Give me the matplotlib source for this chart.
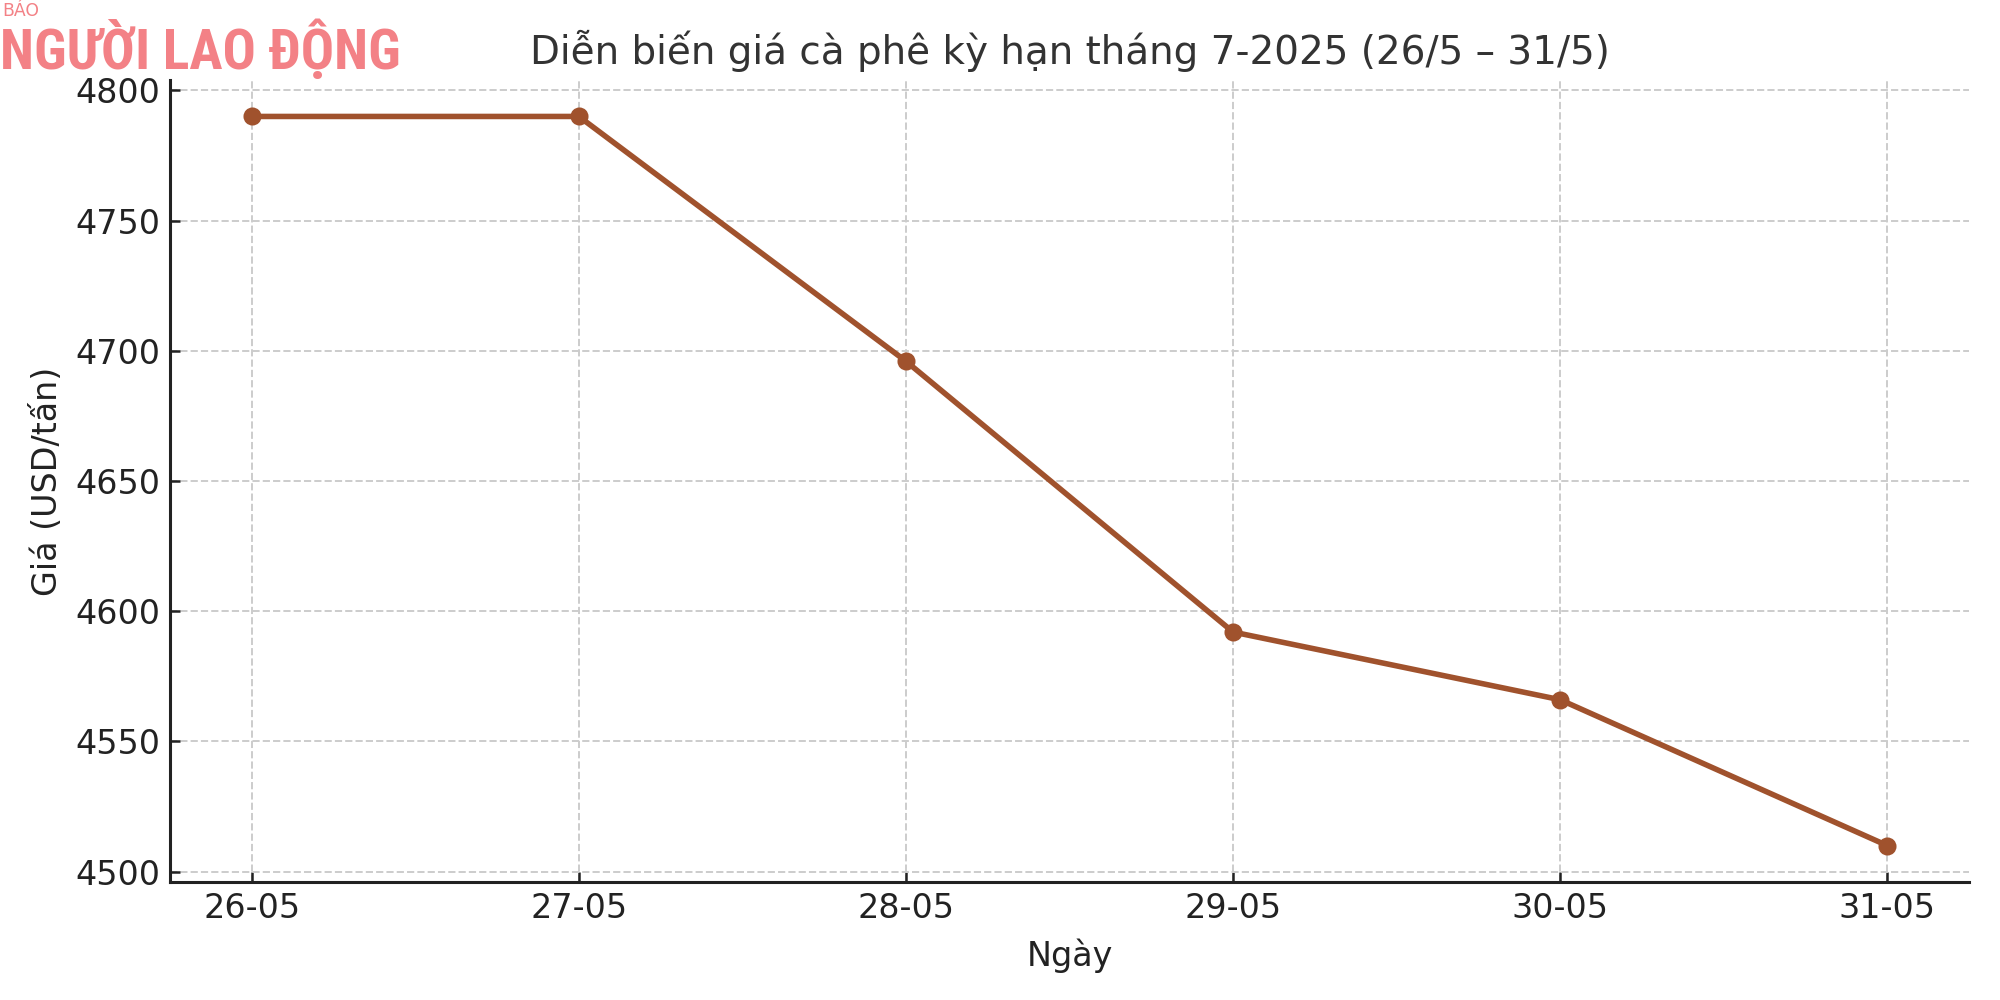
import matplotlib.pyplot as plt
from matplotlib import font_manager

# data
dates = ["26-05", "27-05", "28-05", "29-05", "30-05", "31-05"]
prices = [4790, 4790, 4696, 4592, 4566, 4510]

title = "Diễn biến giá cà phê kỳ hạn tháng 7-2025 (26/5 – 31/5)"
x_label = "Ngày"
y_label = "Giá (USD/tấn)"

plt.rcParams["font.family"] = ["DejaVu Sans"]

fig = plt.figure(figsize=(10, 5), dpi=200, facecolor="white")
ax = fig.add_axes([0.085, 0.118, 0.8995, 0.802])

ax.plot(range(len(dates)), prices, color="#a0522d", linewidth=2, marker="o", markersize=5.5)
ax.set_xticks(range(len(dates)))
ax.set_xticklabels(dates)
ax.set_yticks([4500, 4550, 4600, 4650, 4700, 4750, 4800])

ax.grid(True, linestyle="--", color="#cccccc", linewidth=0.7)
ax.set_axisbelow(True)
for side in ("top", "right"):
    ax.spines[side].set_visible(False)
for side in ("left", "bottom"):
    ax.spines[side].set_color("#222222")
    ax.spines[side].set_linewidth(1.1)
ax.tick_params(direction="in", colors="#222222", labelsize=12, length=3.5, width=0.9)

ax.set_xlabel(x_label, fontsize=12, color="#222222", labelpad=5)
ax.set_ylabel(y_label, fontsize=12, color="#222222", labelpad=4)
fig.text(0.535, 0.949, title, fontsize=14, color="#333333", ha="center", va="center")

# newspaper watermark, top left (narrowest installed bold face)
logo = "#f38186"
installed = {f.name for f in font_manager.fontManager.ttflist}
logo_font, logo_size = "Roboto", 16.5
for name in ("Roboto Condensed", "Liberation Sans Narrow", "Open Sans Condensed"):
    if name in installed:
        logo_font, logo_size = name, 20
        break
fig.text(0.001, 0.984, "BÁO", fontsize=6.2, color=logo, ha="left", va="baseline")
fig.text(0.0, 0.931, "NGƯỜI LAO ĐỘNG", fontsize=logo_size, color=logo, fontweight="bold",
         family=logo_font, ha="left", va="baseline")

fig.savefig("out.png", dpi=200, facecolor="white")
